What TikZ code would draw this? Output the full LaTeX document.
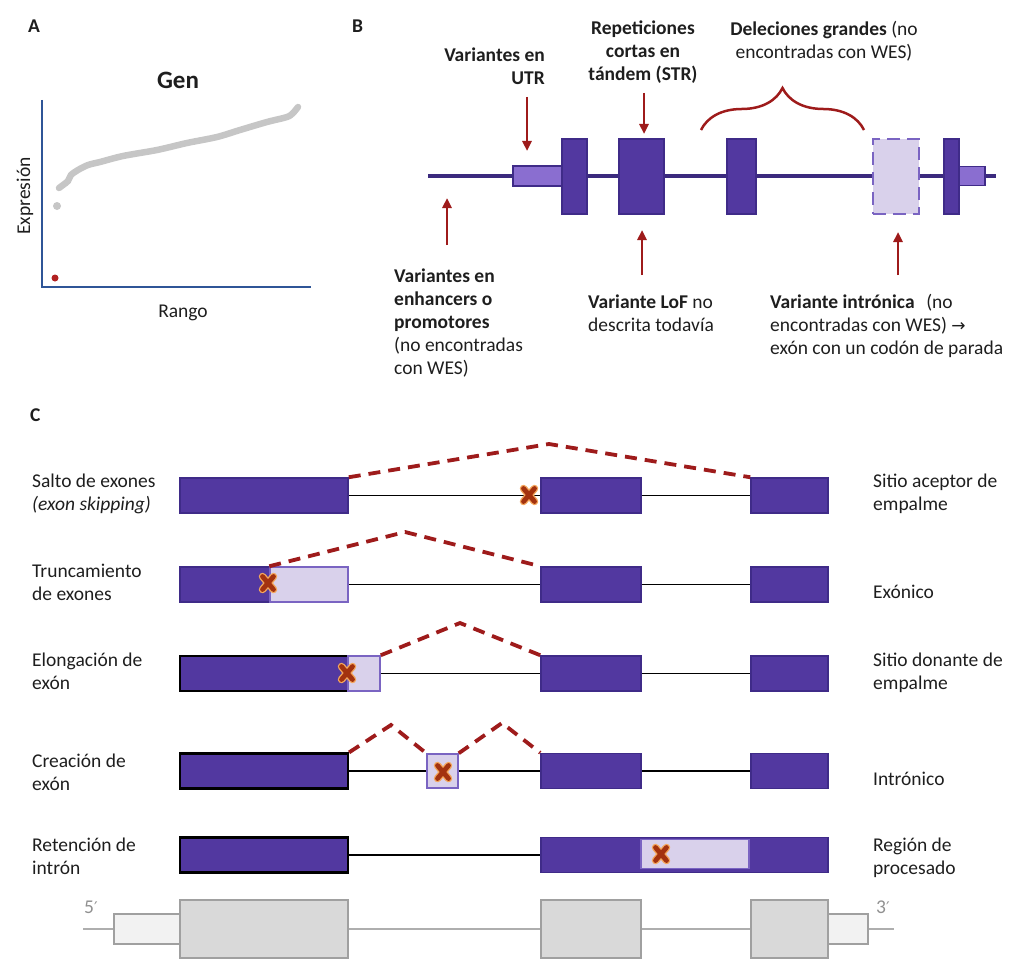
\documentclass[tikz,border=0pt]{standalone}
\usepackage{fontspec}
\setmainfont{Carlito}
\newfontfamily\symfont{DejaVu Sans}
\usetikzlibrary{positioning}
\usetikzlibrary{arrows.meta}
\usetikzlibrary{decorations.pathreplacing}

\definecolor{inktext}{HTML}{1E1E1E}
\definecolor{exonfill}{HTML}{5238A0}
\definecolor{exonedge}{HTML}{3F2B88}
\definecolor{utrfill}{HTML}{8A6ED0}
\definecolor{palefill}{HTML}{D9D1EB}
\definecolor{paleedge}{HTML}{7A64C2}
\definecolor{geneline}{HTML}{3B2A7E}
\definecolor{darkred}{HTML}{9E1B1B}
\definecolor{axisblue}{HTML}{2F5597}
\definecolor{dotgrey}{HTML}{C6C6C6}
\definecolor{dotred}{HTML}{B22222}
\definecolor{reffill}{HTML}{D9D9D9}
\definecolor{refutr}{HTML}{F2F2F2}
\definecolor{refedge}{HTML}{A0A0A0}
\definecolor{xcore}{HTML}{A3320F}
\definecolor{xglow}{HTML}{F4A65C}

\newcommand{\txtsize}{\fontsize{19.5}{23}\selectfont}

\tikzset{x=1pt, y=-1pt, % one unit is one pixel of the layout, y runs down
every node/.style={text=inktext, font=\txtsize, inner sep=0pt},
lbl/.style={anchor=base west, align=left}, % text block hung on its last baseline
panel/.style={anchor=base west, font=\txtsize\bfseries},
wh/.style 2 args={minimum width=#1, minimum height=#2}, % box size
exon/.style={ % coding exon
draw=exonedge, fill=exonfill, line width=1.5pt},
utr/.style={exon, fill=utrfill},
pale/.style={draw=paleedge, fill=palefill, line width=1.5pt},
blackexon/.style={exon, draw=black, line width=2.2pt},
refbox/.style={draw=refedge, fill=reffill, line width=2.2pt},
gene/.style={draw=geneline, line width=3.5pt},
intron/.style={draw=black, line width=1.6pt},
splice/.style={draw=darkred, line width=3.8pt, dash pattern=on 12pt off 8pt},
pointer/.style={ % red arrows of panel B
draw=darkred, line width=2.5pt,
-{Triangle[length=10pt,width=9pt]}},
mutation/.pic={
\draw[line width=7.5pt, xglow, line cap=round] (-5.5,-6.5) -- (5.5,6.5) (-5.5,6.5) -- (5.5,-6.5);
\draw[line width=4.8pt, xcore, line cap=round] (-5.5,-6.5) -- (5.5,6.5) (-5.5,6.5) -- (5.5,-6.5);
}}

\begin{document}
\begin{tikzpicture}
\useasboundingbox (0,0) rectangle (1024,960);

% ---------- A
\node[panel] (pa) at (28,33) {A};
\node[anchor=base, font=\fontsize{25}{30}\selectfont\bfseries] (gen) at (178,89) {Gen};
\coordinate (ytop) at (42,100);
\coordinate (orig) at (42,287);
\coordinate (xend) at (311,287);
\draw[axisblue, line width=2.8pt] (ytop) -- (orig) -- (xend);
\node[rotate=90, anchor=base] (expr) at (30,196) {Expresión};
\node[anchor=base] (rango) at (183,317) {Rango};
\draw[dotgrey, line width=6.5pt, line cap=round] plot[smooth] coordinates {(59,188) (63,185) (68,181) (71,175) (78,170) (88,165) (100,162) (123,156) (157,150) (187,143) (217,137) (240,130) (267,122) (287,117) (293,113) (298,107)};
\fill[dotgrey] (57,206) circle (4pt);
\fill[dotred] (55,278) circle (3.5pt);

% ---------- B
\node[panel] (pb) at (352,33) {B};
\coordinate (g0) at (428,176);
\coordinate (g1) at (996,176);
\draw[gene] (g0) -- (g1);
\node[utr, wh={49}{20}] (utrL) at (537.5,176) {};
\node[exon, wh={25}{75}] (e1) at (574.5,176.5) {};
\node[exon, wh={45}{75}] (e2) at (641.5,176.5) {};
\node[exon, wh={29}{75}] (e3) at (741.5,176.5) {};
\node[pale, dashed, dash pattern=on 13pt off 7pt, wh={46}{75}] (e4) at (896,176.5) {};
\node[utr, wh={26}{19}] (utrR) at (972,176) {};
\node[exon, wh={15}{75}] (e5) at (951.5,176.5) {};

\node[anchor=base east, align=right, font=\txtsize\bfseries] (tutr) at (545,85) {Variantes en\\UTR};
\node[anchor=base, align=center, font=\txtsize\bfseries] (tstr) at (643,81) {Repeticiones\\cortas en\\tándem (STR)};
\node[anchor=base, align=center] (tdel) at (824,59) {\textbf{Deleciones grandes} (no\\encontradas con WES)};
\node[lbl] (tenh) at (394,374) {\textbf{Variantes en}\\\textbf{enhancers o}\\\textbf{promotores}\\(no encontradas\\con WES)};
\node[lbl] (tlof) at (588,331) {\textbf{Variante LoF} no\\descrita todavía};
\node[lbl] (tint) at (770,354) {\textbf{Variante intrónica}\hspace{0.6em}(no\\encontradas con WES) {\symfont\fontsize{17}{23}\selectfont →}\\exón con un codón de parada};

\coordinate (autr0) at (527,97);   \coordinate (autr1) at (527,151);
\coordinate (astr0) at (644,93);   \coordinate (astr1) at (644,134);
\coordinate (aenh0) at (447,245);  \coordinate (aenh1) at (447,198);
\coordinate (alof0) at (642,275);  \coordinate (alof1) at (642,230);
\coordinate (aint0) at (898,275);  \coordinate (aint1) at (898,232);
\draw[pointer] (autr0) -- (autr1);
\draw[pointer] (astr0) -- (astr1);
\draw[pointer] (aenh0) -- (aenh1);
\draw[pointer] (alof0) -- (alof1);
\draw[pointer] (aint0) -- (aint1);
\coordinate (brL) at (701,130);
\coordinate (brR) at (864,130);
\draw[darkred, line width=2.5pt, decorate, decoration={brace, amplitude=42pt}] (brL) -- (brR);

% ---------- C
\node[panel] (pc) at (30,421) {C};

% row 1: exon skipping
\node[exon, wh={168}{35}] (a1) at (264,495.5) {};
\node[exon, wh={100}{35}] (b1) at (591,495.5) {};
\node[exon, wh={77}{35}] (c1) at (789.5,495.5) {};
\draw[intron] (a1.east) -- (b1.west) (b1.east) -- (c1.west);
\coordinate (p1) at (549,444);
\draw[splice] (a1.north east) -- (p1) -- (c1.north west);
\pic at (529,495) {mutation};

% row 2: exon truncation
\node[exon, wh={90}{35}] (a2) at (225,584.5) {};
\node[pale, wh={78}{35}] (t2) at (309,584.5) {};
\node[exon, wh={100}{35}] (b2) at (591,584.5) {};
\node[exon, wh={77}{35}] (c2) at (789.5,584.5) {};
\draw[intron] (t2.east) -- (b2.west) (b2.east) -- (c2.west);
\coordinate (p2) at (405,532);
\draw[splice] (t2.north west) -- (p2) -- (b2.north west);
\pic at (268,583) {mutation};

% row 3: exon elongation
\node[blackexon, wh={168}{35}] (a3) at (264,673.5) {};
\node[pale, wh={32}{35}] (t3) at (364,673.5) {};
\node[exon, wh={100}{35}] (b3) at (591,673.5) {};
\node[exon, wh={77}{35}] (c3) at (789.5,673.5) {};
\draw[intron] (t3.east) -- (b3.west) (b3.east) -- (c3.west);
\coordinate (p3) at (460,623);
\draw[splice] (t3.north east) -- (p3) -- (b3.north west);
\pic at (347,673) {mutation};

% row 4: exon creation
\node[blackexon, wh={168}{35}] (a4) at (264,771) {};
\node[pale, wh={31}{34}] (n4) at (442.5,771) {};
\node[exon, wh={100}{35}] (b4) at (591,771) {};
\node[exon, wh={77}{35}] (c4) at (789.5,771) {};
\draw[intron] (a4.east) -- (n4.west) (n4.east) -- (b4.west) (b4.east) -- (c4.west);
\coordinate (p4) at (391,725);
\coordinate (q4) at (502,723);
\draw[splice] (a4.north east) -- (p4) -- (n4.north west);
\draw[splice] (n4.north east) -- (q4) -- (b4.north west);
\pic at (443,772) {mutation};

% row 5: intron retention
\node[blackexon, wh={168}{35}] (a5) at (264,855) {};
\node[exon, wh={287}{35}] (b5) at (684.5,855) {};
\node[pale, wh={108}{29}] (t5) at (695,854) {};
\draw[intron] (a5.east) -- (b5.west);
\pic at (661,854) {mutation};

% reference transcript
\coordinate (r0) at (83,929);
\coordinate (r1) at (894,929);
\draw[refedge!85, line width=1.6pt] (r0) -- (r1);
\node[refbox, fill=refutr, wh={66}{30}] (u1) at (147,929) {};
\node[refbox, fill=refutr, wh={40}{30}] (u2) at (848,929) {};
\node[refbox, wh={168}{58}] (k1) at (264,929) {};
\node[refbox, wh={100}{58}] (k2) at (591,929) {};
\node[refbox, wh={77}{58}] (k3) at (789.5,929) {};
\node[anchor=base west, text=refedge!90!black] (five) at (84,913) {5{\symfont\fontsize{16}{20}\selectfont ′}};
\node[anchor=base west, text=refedge!90!black] (three) at (876,913) {3{\symfont\fontsize{16}{20}\selectfont ′}};

% row labels
\node[lbl] (l1) at (32,510) {Salto de exones\\\textit{(exon skipping)}};
\node[lbl] (l2) at (32,600) {Truncamiento\\de exones};
\node[lbl] (l3) at (32,689) {Elongación de\\exón};
\node[lbl] (l4) at (32,790) {Creación de\\exón};
\node[lbl] (l5) at (32,874) {Retención de\\intrón};
\node[lbl] (m1) at (873,510) {Sitio aceptor de\\empalme};
\node[lbl] (m2) at (873,598) {Exónico};
\node[lbl] (m3) at (873,689) {Sitio donante de\\empalme};
\node[lbl] (m4) at (873,785) {Intrónico};
\node[lbl] (m5) at (873,874) {Región de\\procesado};
\end{tikzpicture}
\end{document}
